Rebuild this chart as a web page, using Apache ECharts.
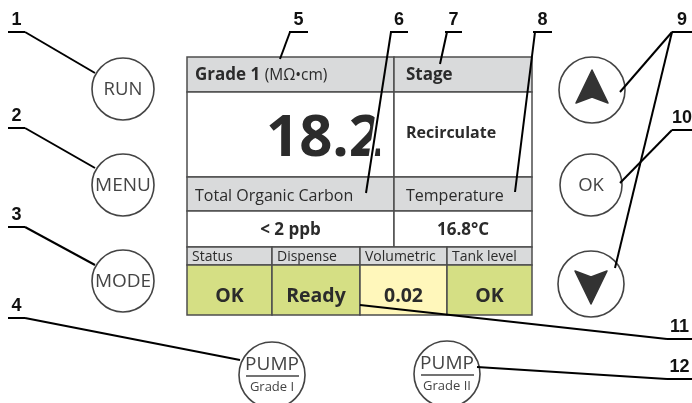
<!DOCTYPE html>
<html>
<head>
<meta charset="utf-8">
<script src="https://cdn.jsdelivr.net/npm/echarts@6/dist/echarts.min.js"></script>
<style>
  html, body { margin: 0; padding: 0; background: #fff; }
  #chart { width: 692px; height: 403px; }
</style>
</head>
<body>
<div id="chart"></div>
<script>
// canvas extent used by both (hidden) axes, 1 unit = 1 px
const W = 692;
const H = 403;

// screen cells: text shown in each cell
const cellTexts = [
  "{b|Grade 1} {n|(MΩ•cm)}", "Stage",
  "18.2", "Recirculate",
  "Total Organic Carbon", "Temperature",
  "< 2 ppb", "16.8°C",
  "Status", "Dispense", "Volumetric", "Tank level",
  "OK", "Ready", "0.02", "OK"
];
// cell boxes [x0, y0, x1, y1]
const cellBoxes = [
  [187, 57, 394, 92], [394, 57, 532, 92],
  [187, 92, 394, 177], [394, 92, 532, 177],
  [187, 177, 394, 211], [394, 177, 532, 211],
  [187, 211, 394, 247], [394, 211, 532, 247],
  [187, 247, 272, 265], [272, 247, 360, 265], [360, 247, 447, 265], [447, 247, 532, 265],
  [187, 265, 272, 315], [272, 265, 360, 315], [360, 265, 447, 315], [447, 265, 532, 315]
];
// cell look
const cellKinds = [
  "head", "headB", "big", "boldL", "headN", "headN", "value", "value",
  "small", "small", "small", "small", "green", "green", "yellow", "green"
];

// round buttons
const buttonTexts = ["RUN", "MENU", "MODE", "OK"];
const buttonCentres = [[123, 89], [123, 185], [123, 281], [591, 185]];
const buttonSizes = [18.5, 19, 19, 18.5];
const arrowButtons = [[592, 90, 1], [591, 284, -1]];
const pumpTexts = ["Grade I", "Grade II"];
const pumpCentres = [[272, 375], [447, 374]];

// callout numbers and where they sit
const calloutNums = ["1", "2", "3", "4", "5", "6", "7", "8", "9", "10", "11", "12"];
const calloutBars = [
  [8, 25, 32], [8, 25, 128], [8, 25, 227], [8, 25, 318],
  [289, 308, 32], [390, 408, 32], [445, 462, 32], [533, 552, 32],
  [672, 692, 32], [672, 692, 130], [667, 692, 339], [667, 692, 379]
];
// leader lines [x1, y1, x2, y2]
const leaders = [
  [25, 32, 95, 73], [25, 128, 95, 168], [25, 227, 95, 265], [25, 318, 240, 360],
  [290, 32, 280, 59], [391, 32, 366, 193], [447, 32, 440, 64], [535, 32, 515, 192],
  [672, 32, 620, 92], [672, 32, 615, 268], [672, 130, 620, 183],
  [667, 339, 360, 305], [667, 379, 477, 367]
];

const TXT = "#2b2b2b";
const FONT = "'Open Sans', 'Noto Sans', sans-serif";
const kindStyle = {
  head:   { fill: "#d9dadb", align: "left", size: 17, weight: "bold", dy: 1 },
  headB:  { fill: "#d9dadb", align: "left", size: 17, weight: "bold", dy: 1 },
  headN:  { fill: "#d9dadb", align: "left", size: 16, weight: "normal", dy: 2 },
  big:    { fill: "#ffffff", align: "right", size: 58, weight: "bold", dy: 5 },
  boldL:  { fill: "#ffffff", align: "left", size: 16, weight: "bold", dy: -1 },
  value:  { fill: "#ffffff", align: "center", size: 17, weight: "bold", dy: 1 },
  small:  { fill: "#d9dadb", align: "left", size: 14, weight: "normal", dy: 1 },
  green:  { fill: "#d5df84", align: "center", size: 19.5, weight: "bold", dy: 6 },
  yellow: { fill: "#fff7bb", align: "center", size: 19.5, weight: "bold", dy: 6 }
};

function cellItem(params, api) {
  const p0 = api.coord([api.value(0), api.value(1)]);
  const p1 = api.coord([api.value(2), api.value(3)]);
  const k = kindStyle[cellKinds[params.dataIndex]];
  let tx = p0[0] + (p0[0] > 300 ? 12 : 8);
  if (k.align === "center") tx = (p0[0] + p1[0]) / 2;
  if (k.align === "right") tx = p1[0] - 12;
  if (k.size === 14) tx = p0[0] + 5;
  return {
    type: "group",
    children: [
      {
        type: "rect",
        shape: { x: p0[0], y: p0[1], width: p1[0] - p0[0], height: p1[1] - p0[1] },
        style: { fill: k.fill, stroke: "#4d4d4d", lineWidth: 1.5 }
      },
      {
        type: "text",
        style: {
          text: cellTexts[params.dataIndex],
          x: tx,
          y: (p0[1] + p1[1]) / 2 + k.dy,
          align: k.align,
          verticalAlign: "middle",
          fontFamily: FONT,
          fontSize: k.size,
          fontWeight: k.weight,
          fill: TXT,
          rich: {
            b: { fontFamily: FONT, fontSize: 17, fontWeight: "bold", fill: TXT },
            n: { fontFamily: FONT, fontSize: 15.5, fontWeight: "normal", fill: TXT }
          }
        }
      }
    ]
  };
}

function buttonItem(params, api) {
  const c = api.coord([api.value(0), api.value(1)]);
  const r = api.size([31, 0])[0];
  return {
    type: "group",
    children: [
      { type: "circle", shape: { cx: c[0], cy: c[1], r: r },
        style: { fill: "#fff", stroke: "#444", lineWidth: 1.6 } },
      { type: "text", style: {
          text: buttonTexts[params.dataIndex], x: c[0], y: c[1] + 1,
          align: "center", verticalAlign: "middle",
          fontFamily: FONT, fontSize: buttonSizes[params.dataIndex], fill: "#444" } }
    ]
  };
}

function arrowItem(params, api) {
  const c = api.coord([api.value(0), api.value(1)]);
  const d = api.value(2);
  const r = api.size([33, 0])[0];
  const tip = [c[0], c[1] - 20 * d];
  const left = [c[0] - 16, c[1] + 13 * d];
  const notch = [c[0], c[1] + 7 * d];
  const right = [c[0] + 16, c[1] + 13 * d];
  return {
    type: "group",
    children: [
      { type: "circle", shape: { cx: c[0], cy: c[1], r: r },
        style: { fill: "#fff", stroke: "#444", lineWidth: 1.6 } },
      { type: "polygon", shape: { points: [tip, right, notch, left] },
        style: { fill: "#333", stroke: "#333", lineWidth: 1.5, lineJoin: "round" } }
    ]
  };
}

function pumpItem(params, api) {
  const c = api.coord([api.value(0), api.value(1)]);
  const r = api.size([33, 0])[0];
  return {
    type: "group",
    children: [
      { type: "circle", shape: { cx: c[0], cy: c[1], r: r },
        style: { fill: "#fff", stroke: "#444", lineWidth: 1.6 } },
      { type: "text", style: {
          text: "PUMP", x: c[0], y: c[1] - 10, align: "center", verticalAlign: "middle",
          fontFamily: FONT, fontSize: 19, fill: "#444" } },
      { type: "line", shape: { x1: c[0] - 26, y1: c[1] + 1, x2: c[0] + 27, y2: c[1] + 1 },
        style: { stroke: "#444", lineWidth: 1.5 } },
      { type: "text", style: {
          text: pumpTexts[params.dataIndex], x: c[0], y: c[1] + 12, align: "center", verticalAlign: "middle",
          fontFamily: FONT, fontSize: 13, fill: "#444" } }
    ]
  };
}

function leaderItem(params, api) {
  const a = api.coord([api.value(0), api.value(1)]);
  const b = api.coord([api.value(2), api.value(3)]);
  const children = [];
  if (params.dataIndex === 5) {
    // white gap where the pointer crosses the big reading
    const t0 = (100 - a[1]) / (b[1] - a[1]);
    const t1 = (170 - a[1]) / (b[1] - a[1]);
    children.push({ type: "line", shape: {
        x1: a[0] + (b[0] - a[0]) * t0, y1: 100, x2: a[0] + (b[0] - a[0]) * t1, y2: 170 },
      style: { stroke: "#fff", lineWidth: 6 } });
  }
  children.push({ type: "line", shape: { x1: a[0], y1: a[1], x2: b[0], y2: b[1] },
    style: { stroke: "#000", lineWidth: 2 } });
  return { type: "group", children: children };
}

function calloutItem(params, api) {
  const l = api.coord([api.value(0), api.value(2)]);
  const r = api.coord([api.value(1), api.value(2)]);
  return {
    type: "group",
    children: [
      { type: "line", shape: { x1: l[0], y1: l[1], x2: r[0], y2: r[1] },
        style: { stroke: "#000", lineWidth: 2 } },
      { type: "text", style: {
          text: calloutNums[params.dataIndex], x: (l[0] + r[0]) / 2, y: l[1] - 3,
          align: "center", verticalAlign: "bottom",
          fontFamily: "'Liberation Sans', Arial, sans-serif", fontWeight: "bold",
          fontSize: 18, fill: "#111" } }
    ]
  };
}

const chart = echarts.init(document.getElementById("chart"));
chart.setOption({
  animation: false,
  backgroundColor: "#fff",
  grid: { left: 0, right: 0, top: 0, bottom: 0 },
  xAxis: { type: "value", min: 0, max: W, show: false },
  yAxis: { type: "value", min: 0, max: H, inverse: true, show: false },
  series: [
    { type: "custom", renderItem: cellItem, clip: false, encode: { x: [0, 2], y: [1, 3] }, data: cellBoxes },
    { type: "custom", renderItem: buttonItem, clip: false, encode: { x: 0, y: 1 }, data: buttonCentres },
    { type: "custom", renderItem: arrowItem, clip: false, encode: { x: 0, y: 1 }, data: arrowButtons },
    { type: "custom", renderItem: pumpItem, clip: true, encode: { x: 0, y: 1 }, data: pumpCentres },
    { type: "custom", renderItem: leaderItem, clip: false, encode: { x: [0, 2], y: [1, 3] }, data: leaders },
    { type: "custom", renderItem: calloutItem, clip: false, encode: { x: [0, 1], y: 2 }, data: calloutBars }
  ]
});
</script>
</body>
</html>
